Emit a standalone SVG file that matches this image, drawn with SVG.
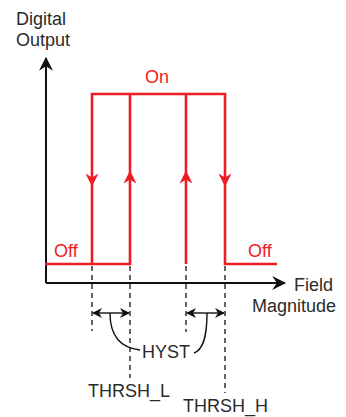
<svg xmlns="http://www.w3.org/2000/svg" width="346" height="417" viewBox="0 0 346 417">
<style>
.t{font-family:"Liberation Sans",Arial,sans-serif;font-size:18px;fill:#2b2b2b}
.r{font-family:"Liberation Sans",Arial,sans-serif;font-size:18px;fill:#ee1c24}
.red{stroke:#ee1c24;stroke-width:2.6;fill:none}
.dash{stroke:#333;stroke-width:1.5;stroke-dasharray:5,4;fill:none}
.dim{stroke:#111;stroke-width:1.4;fill:none}
</style>
<defs>
<marker id="ah" viewBox="0 0 10 10" refX="9" refY="5" markerWidth="10" markerHeight="10" markerUnits="userSpaceOnUse" orient="auto">
<path d="M0,0 L10,5 L0,10 L3,5 z" fill="#111"/>
</marker>
<marker id="ax" viewBox="0 0 12 12" refX="11" refY="6" markerWidth="14" markerHeight="14" markerUnits="userSpaceOnUse" orient="auto">
<path d="M0,0 L12,6 L0,12 L4,6 z" fill="#111"/>
</marker>
<marker id="ra" viewBox="0 0 10 10" refX="5" refY="5" markerWidth="13" markerHeight="13" markerUnits="userSpaceOnUse" orient="auto">
<path d="M0,0 L10,5 L0,10 L3,5 z" fill="#ee1c24"/>
</marker>
</defs>
<g id="axes">
<path d="M46,283 L46,58" stroke="#111" stroke-width="2" fill="none" marker-end="url(#ax)"/>
<path d="M46,283 L285,283" stroke="#111" stroke-width="2" fill="none" marker-end="url(#ax)"/>
<text class="t" x="16" y="25">Digital</text>
<text class="t" x="16" y="46">Output</text>
<text class="t" x="294" y="291">Field</text>
<text class="t" x="336" y="312" text-anchor="end">Magnitude</text>
</g>
<g id="curve">
<path class="red" d="M45,264 L130,264 L130,94 M92,264 L92,94 L225,94 L225,264 L277,264 M186,264 L186,94"/>
<text class="r" x="145" y="83">On</text>
<text class="r" x="54" y="257">Off</text>
<text class="r" x="248" y="257">Off</text>
</g>
<g id="connectors">
<path d="M92,150 L92,180" stroke="none" marker-end="url(#ra)"/>
<path d="M130,200 L130,177" stroke="none" marker-end="url(#ra)"/>
<path d="M186,200 L186,177" stroke="none" marker-end="url(#ra)"/>
<path d="M225,150 L225,180" stroke="none" marker-end="url(#ra)"/>
<path class="dash" d="M92,266 L92,331"/>
<path class="dash" d="M130,266 L130,378"/>
<path class="dash" d="M186,266 L186,332"/>
<path class="dash" d="M225,266 L225,393"/>
<path class="dim" d="M111,313 L93,313" marker-end="url(#ah)"/>
<path class="dim" d="M111,313 L129,313" marker-end="url(#ah)"/>
<path class="dim" d="M205,313 L187,313" marker-end="url(#ah)"/>
<path class="dim" d="M205,313 L224,313" marker-end="url(#ah)"/>
<path class="dim" d="M110,313 C110,338 122,348 140,350"/>
<path class="dim" d="M207,313 C207,340 202,350 194,353"/>
</g>
<g id="labels">
<text class="t" x="142" y="358">HYST</text>
<text class="t" x="88" y="397">THRSH_L</text>
<text class="t" x="183" y="412">THRSH_H</text>
</g>
</svg>
